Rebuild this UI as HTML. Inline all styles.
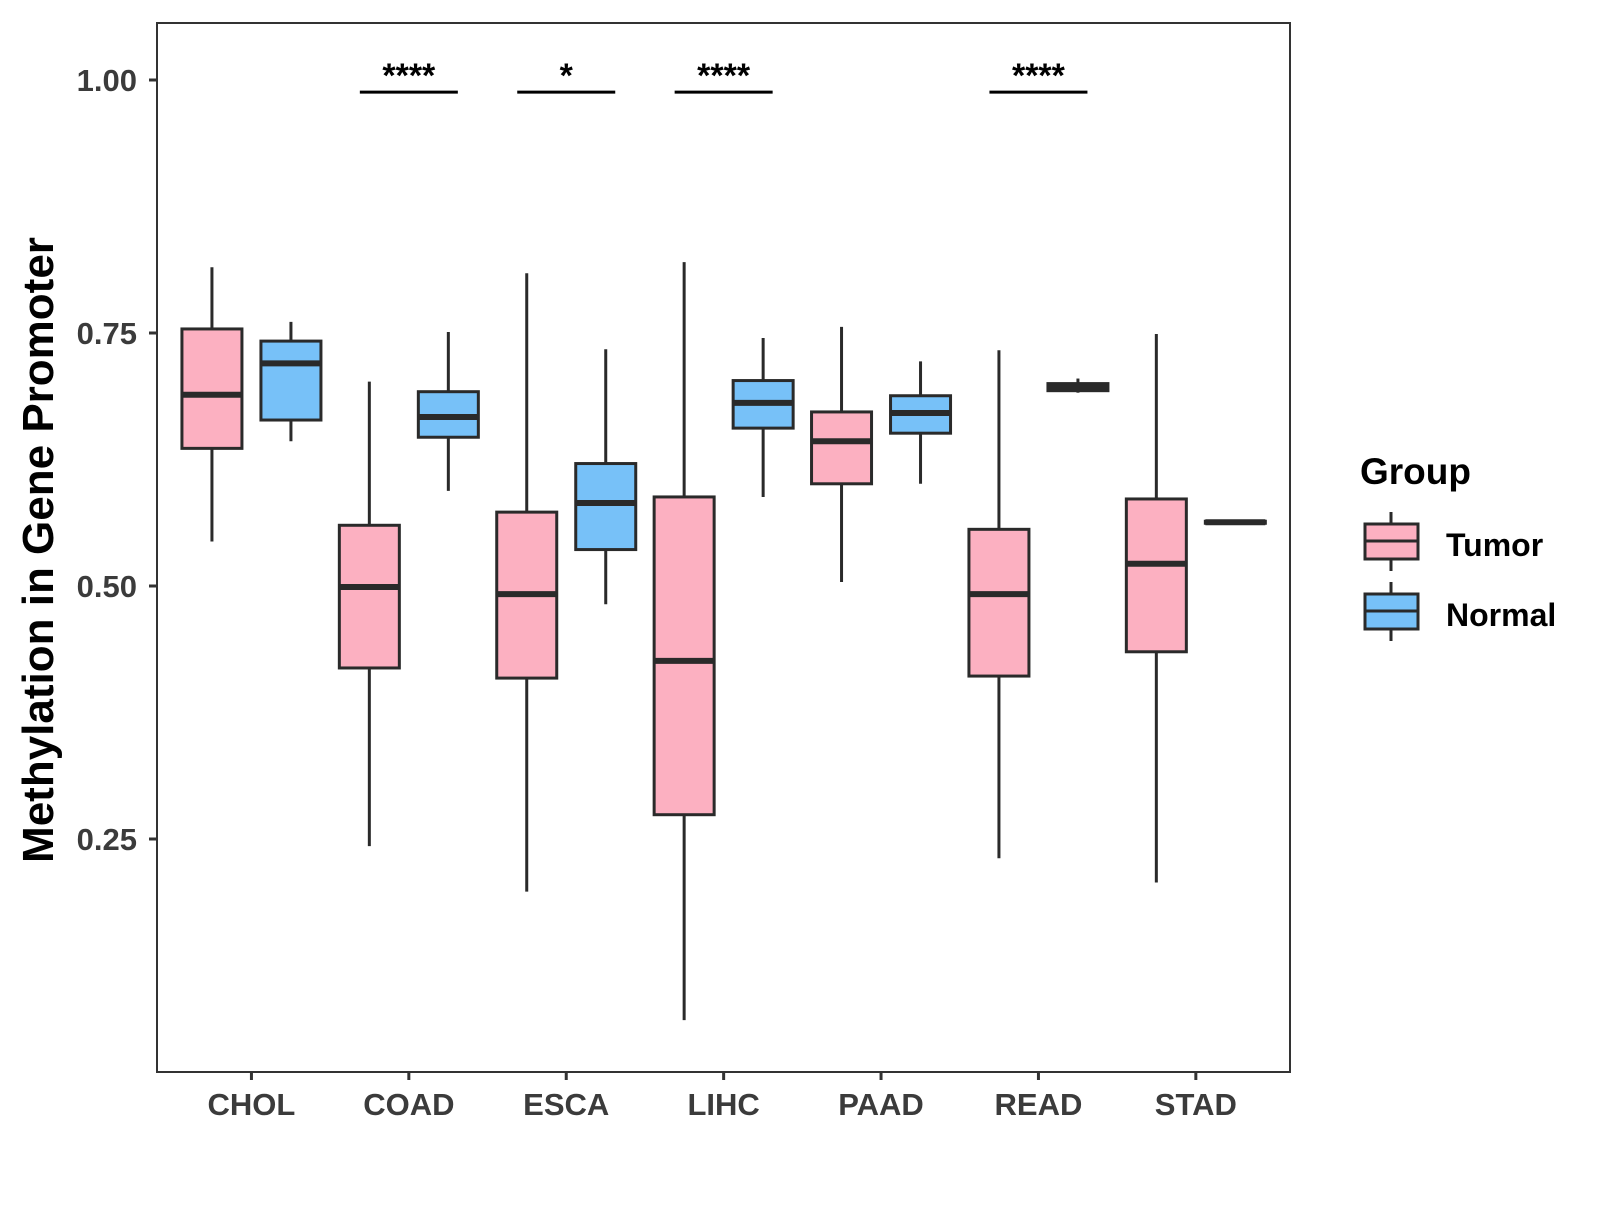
<!DOCTYPE html>
<html><head><meta charset="utf-8"><style>
body{margin:0;background:#fff}
svg text{font-family:"Liberation Sans",Arial,sans-serif;font-weight:bold}
</style></head><body>
<svg id="chart" width="1600" height="1200" viewBox="0 0 1600 1200" xmlns="http://www.w3.org/2000/svg">
<rect x="157" y="23" width="1133" height="1049" fill="#fff" stroke="#333" stroke-width="2"/>
<g id="marks"></g>
<text transform="translate(53,550) rotate(-90)" text-anchor="middle" font-size="44" fill="#000">Methylation in Gene Promoter</text>
<g>
<text x="1360" y="484" font-size="37" fill="#000">Group</text>
<g>
<line x1="1391" y1="512" x2="1391" y2="571" stroke="#2a2a2a" stroke-width="3"/>
<rect x="1365" y="524" width="53" height="35" fill="#FCB0C1" stroke="#2a2a2a" stroke-width="3"/>
<line x1="1365" y1="541" x2="1418" y2="541" stroke="#2a2a2a" stroke-width="3"/>
<text x="1446" y="556" font-size="32" fill="#000">Tumor</text></g>
<g>
<line x1="1391" y1="582" x2="1391" y2="641" stroke="#2a2a2a" stroke-width="3"/>
<rect x="1365" y="594" width="53" height="35" fill="#77C1F8" stroke="#2a2a2a" stroke-width="3"/>
<line x1="1365" y1="611" x2="1418" y2="611" stroke="#2a2a2a" stroke-width="3"/>
<text x="1446" y="626" font-size="32" fill="#000">Normal</text></g>
</g>
</svg>
<script>
const categories=["CHOL","COAD","ESCA","LIHC","PAAD","READ","STAD"];
// [whiskerLow, q1, median, q3, whiskerHigh]
const tumorStats=[[0.544,0.636,0.689,0.754,0.815],[0.243,0.419,0.499,0.560,0.702],[0.198,0.409,0.492,0.573,0.809],[0.071,0.274,0.426,0.588,0.820],[0.504,0.601,0.643,0.672,0.756],[0.231,0.411,0.492,0.556,0.733],[0.207,0.435,0.522,0.586,0.749]];
const normalStats=[[0.643,0.664,0.720,0.742,0.761],[0.594,0.647,0.667,0.692,0.751],[0.482,0.536,0.582,0.621,0.734],[0.588,0.656,0.681,0.703,0.745],[0.601,0.651,0.671,0.688,0.722],[0.691,0.693,0.697,0.700,0.705],[0.562,0.562,0.563,0.564,0.564]];
const yTicks=[0.25,0.50,0.75,1.00];
const yTickLabels=["0.25","0.50","0.75","1.00"];
const sigCategories=["COAD","ESCA","LIHC","READ"];
const sigLabels=["****","*","****","****"];
const sigLevel=0.988;

const NS="http://www.w3.org/2000/svg";
const g=document.getElementById('marks');
const y=v=>80+(1-v)*1012;
const x=i=>157+(i+0.6)*157.4;
function mk(t,a,p){const e=document.createElementNS(NS,t);for(const k in a)e.setAttribute(k,a[k]);(p||g).appendChild(e);return e;}
yTicks.forEach((v,i)=>{
  const tk=mk('line',{x1:149,x2:157,y1:y(v),y2:y(v),stroke:'#333','stroke-width':3});
  
  
  const t=mk('text',{x:137,y:y(v)+11,'text-anchor':'end','font-size':31,fill:'#3b3b3b'});
  t.textContent=yTickLabels[i];
  
  
});
categories.forEach((c,i)=>{
  const tk=mk('line',{x1:x(i),x2:x(i),y1:1072,y2:1080,stroke:'#333','stroke-width':3});
  
  
  const t=mk('text',{x:x(i),y:1115,'text-anchor':'middle','font-size':31,fill:'#3b3b3b'});
  t.textContent=c;
  
  
});
function box(s,cx,fill,name){
  const grp=mk('g',{});
  
  
  const w=30;
  mk('line',{x1:cx,x2:cx,y1:y(s[4]),y2:y(s[0]),stroke:'#2a2a2a','stroke-width':3},grp);
  mk('rect',{x:cx-w,y:y(s[3]),width:2*w,height:Math.max(y(s[1])-y(s[3]),0.5),fill:fill,stroke:'#2a2a2a','stroke-width':3},grp);
  mk('line',{x1:cx-w,x2:cx+w,y1:y(s[2]),y2:y(s[2]),stroke:'#2a2a2a','stroke-width':6},grp);
}
categories.forEach((c,i)=>{
  box(tumorStats[i],x(i)-39.5,'#FCB0C1','box-tumor-'+c.toLowerCase());
  box(normalStats[i],x(i)+39.5,'#77C1F8','box-normal-'+c.toLowerCase());
});
sigCategories.forEach((c,k)=>{
  const i=categories.indexOf(c);
  const l=mk('line',{x1:x(i)-49,x2:x(i)+49,y1:y(sigLevel),y2:y(sigLevel),stroke:'#000','stroke-width':3});
  
  
  const t=mk('text',{x:x(i),y:y(sigLevel)-5,'text-anchor':'middle','font-size':34,fill:'#000'});
  t.textContent=sigLabels[k];
  
  
});
</script>
</body></html>
